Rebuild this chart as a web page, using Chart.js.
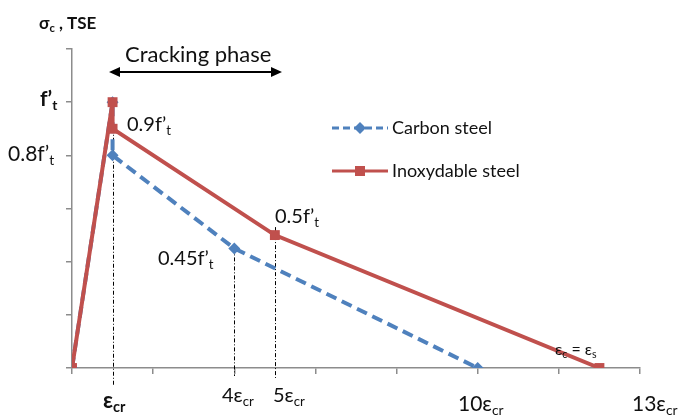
<!DOCTYPE html>
<html>
<head>
<meta charset="utf-8">
<script src="https://cdn.jsdelivr.net/npm/chart.js@4"></script>
<style>
  html, body { margin: 0; padding: 0; background: #fff; }
  #wrap { width: 681px; height: 415px; }
</style>
</head>
<body>
<div id="wrap"><canvas id="tse_chart"></canvas></div>
<script>
// strain in multiples of eps_cr, stress in multiples of f't
const carbonStrain = [0, 1, 1, 4, 10];
const carbonStress = [0, 1, 0.8, 0.45, 0];
const inoxStrain = [0, 1, 1, 5, 13];
const inoxStress = [0, 1, 0.9, 0.5, 0];
const seriesNames = ['Carbon steel', 'Inoxydable steel'];
const xRange = [0, 14], xStep = 2;
const yRange = [0, 1.2], yStep = 0.2;

const BLUE = '#4F81BD', RED = '#C0504D', AXIS = '#8c8c8c', TXT = '#111';
const FONT = 'Lato, "Open Sans", sans-serif';

function toPoints(xs, ys) {
  return xs.map((x, i) => ({ x: x, y: ys[i] }));
}

// draws text with subscript pieces: parts = [[text, isSub], ...]
function rich(ctx, x, y, parts, size, bold) {
  let cx = x;
  parts.forEach(p => {
    const sub = p[1];
    const s = sub ? size * 0.66 : size;
    ctx.font = (bold ? 'bold ' : '') + s + 'px ' + FONT;
    ctx.fillText(p[0], cx, sub ? y + size * 0.2 : y);
    cx += ctx.measureText(p[0]).width;
  });
}

function dotted(ctx, x, y1, y2) {
  ctx.save();
  ctx.strokeStyle = '#000';
  ctx.lineWidth = 1;
  ctx.setLineDash([4, 2, 1, 2]);
  ctx.beginPath();
  ctx.moveTo(Math.round(x) + 0.5, y1);
  ctx.lineTo(Math.round(x) + 0.5, y2);
  ctx.stroke();
  ctx.restore();
}

const annotations = {
  id: 'annotations',
  beforeDatasetsDraw(chart) {
    const ctx = chart.ctx, xs = chart.scales.x, ys = chart.scales.y;
    const bottom = chart.chartArea.bottom;
    dotted(ctx, xs.getPixelForValue(1), ys.getPixelForValue(0.9), bottom + 18);
    dotted(ctx, xs.getPixelForValue(4), ys.getPixelForValue(0.45), bottom + 8);
    dotted(ctx, xs.getPixelForValue(5), ys.getPixelForValue(0.53), bottom + 10);
  },
  afterDraw(chart) {
    const ctx = chart.ctx;
    ctx.save();
    ctx.fillStyle = TXT;
    ctx.textBaseline = 'alphabetic';
    ctx.textAlign = 'left';

    // axis title
    rich(ctx, 39, 29, [['σ', 0], ['c', 1], [' , TSE', 0]], 17, true);

    // cracking phase arrow
    ctx.font = '22px ' + FONT;
    ctx.fillText('Cracking phase', 125, 62);
    const ay = 72, ax1 = 109, ax2 = 282;
    ctx.strokeStyle = '#000';
    ctx.lineWidth = 2;
    ctx.beginPath();
    ctx.moveTo(ax1 + 6, ay);
    ctx.lineTo(ax2 - 6, ay);
    ctx.stroke();
    ctx.fillStyle = '#000';
    ctx.beginPath();
    ctx.moveTo(ax1, ay); ctx.lineTo(ax1 + 11, ay - 5); ctx.lineTo(ax1 + 11, ay + 5); ctx.closePath();
    ctx.moveTo(ax2, ay); ctx.lineTo(ax2 - 11, ay - 5); ctx.lineTo(ax2 - 11, ay + 5); ctx.closePath();
    ctx.fill();
    ctx.fillStyle = TXT;

    // y labels
    rich(ctx, 40, 106, [['f’', 0], ['t', 1]], 21, true);
    rich(ctx, 8, 161, [['0.8f’', 0], ['t', 1]], 21, false);

    // point labels
    rich(ctx, 127, 131, [['0.9f’', 0], ['t', 1]], 20, false);
    rich(ctx, 275, 223, [['0.5f’', 0], ['t', 1]], 20, false);
    rich(ctx, 158, 265, [['0.45f’', 0], ['t', 1]], 20, false);
    rich(ctx, 555, 355, [['ε', 0], ['c', 1], [' = ε', 0], ['s', 1]], 16, false);

    // x labels
    rich(ctx, 103, 408, [['ε', 0], ['cr', 1]], 22, true);
    rich(ctx, 222, 402, [['4ε', 0], ['cr', 1]], 20, false);
    rich(ctx, 273, 402, [['5ε', 0], ['cr', 1]], 20, false);
    rich(ctx, 458, 411, [['10ε', 0], ['cr', 1]], 21, false);
    rich(ctx, 632, 411, [['13ε', 0], ['cr', 1]], 21, false);

    // legend
    const lx1 = 332, lx2 = 388, lm = 360;
    const rows = [
      { y: 128, color: BLUE, dash: [7, 4], name: seriesNames[0], marker: 'diamond' },
      { y: 171, color: RED, dash: [], name: seriesNames[1], marker: 'square' }
    ];
    rows.forEach(r => {
      ctx.strokeStyle = r.color;
      ctx.fillStyle = r.color;
      ctx.lineWidth = 3;
      ctx.setLineDash(r.dash);
      ctx.beginPath();
      ctx.moveTo(lx1, r.y);
      ctx.lineTo(lx2, r.y);
      ctx.stroke();
      ctx.setLineDash([]);
      ctx.beginPath();
      if (r.marker === 'diamond') {
        ctx.moveTo(lm, r.y - 6); ctx.lineTo(lm + 6, r.y); ctx.lineTo(lm, r.y + 6); ctx.lineTo(lm - 6, r.y);
        ctx.closePath();
      } else {
        ctx.rect(lm - 5, r.y - 5, 10, 10);
      }
      ctx.fill();
      ctx.fillStyle = TXT;
      ctx.font = '18px ' + FONT;
      ctx.fillText(r.name, 392, r.y + 6);
    });
    ctx.restore();
  }
};

const ctx = document.getElementById('tse_chart').getContext('2d');
const myChart = new Chart(ctx, {
  type: 'line',
  data: {
    datasets: [
      {
        label: seriesNames[1],
        data: toPoints(inoxStrain, inoxStress),
        borderColor: RED,
        backgroundColor: RED,
        borderWidth: 4,
        pointStyle: 'rect',
        pointRadius: 7,
        pointBorderWidth: 0,
        order: 1
      },
      {
        label: seriesNames[0],
        data: toPoints(carbonStrain, carbonStress),
        borderColor: BLUE,
        backgroundColor: BLUE,
        borderWidth: 4,
        borderDash: [11, 6],
        pointStyle: 'rectRot',
        pointRadius: 6,
        pointBorderWidth: 0,
        order: 2
      }
    ]
  },
  options: {
    responsive: true,
    maintainAspectRatio: false,
    animation: false,
    layout: { padding: { top: 49, right: 41, left: 0, bottom: 0 } },
    plugins: {
      legend: { display: false },
      tooltip: { enabled: false },
      title: { display: false }
    },
    scales: {
      x: {
        type: 'linear',
        min: xRange[0], max: xRange[1],
        ticks: { stepSize: xStep, display: false },
        grid: { display: true, drawOnChartArea: false, drawTicks: true, tickLength: 6, color: AXIS, lineWidth: 1.5 },
        border: { color: AXIS, width: 1.5 },
        afterFit: s => { s.height = 47; }
      },
      y: {
        min: yRange[0], max: yRange[1],
        ticks: { stepSize: yStep, display: false },
        grid: { display: true, drawOnChartArea: false, drawTicks: true, tickLength: 6, color: AXIS, lineWidth: 1.5 },
        border: { color: AXIS, width: 1.5 },
        afterFit: s => { s.width = 72; }
      }
    }
  },
  plugins: [annotations]
});
</script>
</body>
</html>
